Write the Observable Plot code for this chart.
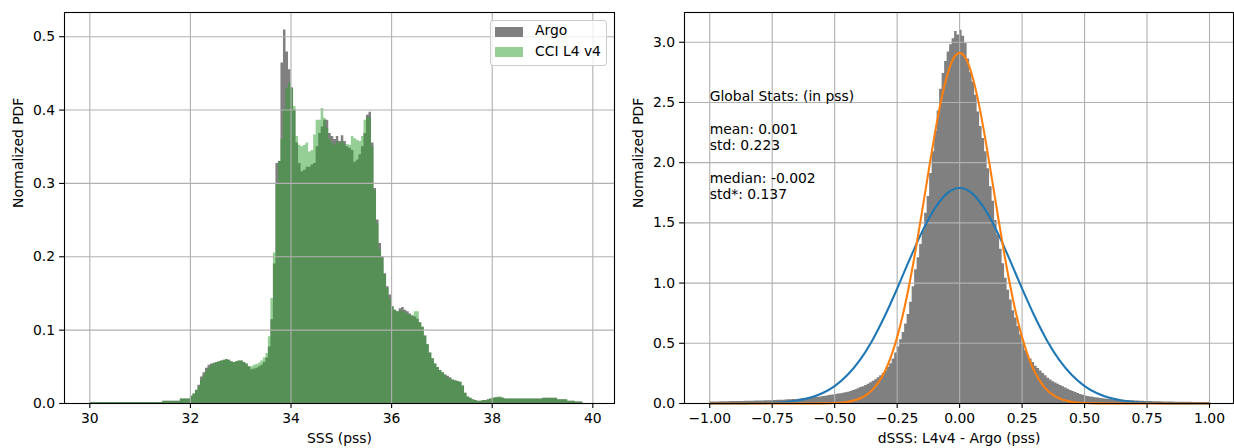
<!DOCTYPE html>
<html>
<head>
<meta charset="utf-8">
<script src="https://cdn.jsdelivr.net/npm/d3@7"></script>
<script src="https://cdn.jsdelivr.net/npm/@observablehq/plot@0.6"></script>
<style>
  html, body { margin: 0; padding: 0; background: #fff; }
  #wrap { position: relative; width: 1234px; height: 448px; overflow: hidden; font-family: "DejaVu Sans", sans-serif; }
  #left, #right { position: absolute; top: 0; }
  #left { left: 0; }
  #right { left: 617px; }
  .legend { position: absolute; left: 490px; top: 20px; width: 115px; height: 44px; border: 1px solid #cccccc; border-radius: 3px; background: rgba(255,255,255,0.8); font-size: 13.9px; line-height: 16px; color: #000; }
  .legend .sw { position: absolute; left: 4px; width: 28px; height: 9.7px; }
  .legend .lb { position: absolute; left: 44px; white-space: nowrap; }
</style>
</head>
<body>
<div id="wrap">
  <div id="left"></div>
  <div id="right"></div>
</div>
<script>
// ---------------- Data ----------------
// Left panel: SSS histograms, bins of 0.05 pss starting at 30.00
const sssBinStart = 30.0;
const sssBinWidth = 0.05;
const argoPdf = [
  0.0015,0.0015,0.0015,0.0015,0.0015,0.0015,0.0015,0.0015,0.0015,0.0015,
  0.0015,0.0015,0.0015,0.0015,0.0015,0.0015,0.0015,0.0015,0.0015,0.0015,
  0.0015,0.0015,0.0015,0.0015,0.0015,0.0015,0.0015,0.0015,0.0015,0.003,
  0.003,0.003,0.003,0.003,0.003,0.003,0.006,0.006,0.006,0.006,
  0.010,0.013,0.018,0.025,0.036,0.042,0.048,0.052,0.054,0.055,
  0.056,0.057,0.058,0.059,0.060,0.059,0.057,0.056,0.057,0.058,
  0.058,0.056,0.054,0.050,0.046,0.047,0.048,0.050,0.052,0.056,
  0.062,0.077,0.114,0.190,0.327,0.330,0.464,0.509,0.479,0.455,
  0.430,0.400,0.355,0.327,0.316,0.318,0.322,0.322,0.325,0.327,
  0.350,0.368,0.377,0.386,0.386,0.368,0.364,0.360,0.364,0.357,
  0.365,0.357,0.350,0.348,0.345,0.329,0.332,0.339,0.350,0.368,
  0.393,0.397,0.355,0.293,0.250,0.218,0.200,0.177,0.159,0.148,
  0.132,0.127,0.125,0.129,0.131,0.127,0.125,0.122,0.119,0.118,
  0.115,0.110,0.104,0.092,0.080,0.069,0.061,0.054,0.049,0.045,
  0.042,0.039,0.037,0.035,0.032,0.031,0.030,0.029,0.024,0.014,
  0.009,0.007,0.005,0.004,0.003,0.003,0.004,0.004,0.005,0.006,
  0.007,0.008,0.008,0.008,0.007,0.006,0.006,0.006,0.006,0.006,
  0.006,0.006,0.006,0.006,0.006,0.006,0.006,0.006,0.006,0.006,
  0.007,0.007,0.007,0.007,0.007,0.007,0.005,0.005,0.005,0.005,
  0.003,0.003,0.003,0.002,0.002,0.002,0,0,0,0
];
const cciPdf = [
  0.0015,0.0015,0.0015,0.0015,0.0015,0.0015,0.0015,0.0015,0.0015,0.0015,
  0.0015,0.0015,0.0015,0.0015,0.0015,0.0015,0.0015,0.0015,0.0015,0.0015,
  0.0015,0.0015,0.0015,0.0015,0.0015,0.0015,0.0015,0.0015,0.0015,0.003,
  0.003,0.003,0.003,0.003,0.003,0.003,0.006,0.006,0.006,0.006,
  0.010,0.013,0.017,0.023,0.032,0.038,0.044,0.048,0.052,0.054,
  0.056,0.057,0.058,0.059,0.060,0.059,0.057,0.056,0.057,0.058,
  0.058,0.056,0.054,0.050,0.050,0.052,0.053,0.055,0.058,0.062,
  0.068,0.091,0.143,0.205,0.300,0.330,0.360,0.400,0.430,0.437,
  0.430,0.405,0.364,0.352,0.350,0.352,0.355,0.343,0.345,0.366,
  0.386,0.386,0.402,0.389,0.375,0.360,0.355,0.352,0.357,0.354,
  0.357,0.352,0.353,0.352,0.364,0.361,0.359,0.357,0.364,0.386,
  0.390,0.390,0.350,0.290,0.245,0.210,0.198,0.175,0.157,0.142,
  0.132,0.127,0.125,0.125,0.126,0.124,0.122,0.120,0.120,0.125,
  0.125,0.110,0.104,0.092,0.080,0.069,0.061,0.054,0.049,0.045,
  0.042,0.039,0.035,0.033,0.032,0.031,0.030,0.029,0.024,0.014,
  0.009,0.007,0.005,0.004,0.003,0.003,0.004,0.004,0.005,0.006,
  0.007,0.008,0.009,0.009,0.007,0.006,0.006,0.006,0.006,0.006,
  0.006,0.006,0.006,0.006,0.006,0.006,0.006,0.006,0.006,0.006,
  0.007,0.007,0.007,0.007,0.007,0.007,0.005,0.005,0.005,0.005,
  0.003,0.003,0.003,0.002,0.002,0.002,0,0,0,0
];
const sssTicks = [30, 32, 34, 36, 38, 40];
const pdfTicksLeft = [0, 0.1, 0.2, 0.3, 0.4, 0.5];

// Right panel: dSSS histogram, bins of 0.01 pss starting at -1.00
const dBinStart = -1.0;
const dBinWidth = 0.01;
const dSssPdf = [
  0.012,0.012,0.013,0.013,0.014,0.015,0.015,0.015,0.016,0.016,
  0.016,0.016,0.017,0.017,0.018,0.018,0.019,0.019,0.020,0.020,
  0.021,0.021,0.022,0.023,0.023,0.024,0.025,0.026,0.027,0.028,
  0.030,0.031,0.032,0.033,0.034,0.036,0.038,0.040,0.041,0.043,
  0.045,0.047,0.049,0.051,0.054,0.058,0.061,0.064,0.068,0.071,
  0.075,0.078,0.081,0.085,0.089,0.094,0.100,0.107,0.115,0.123,
  0.132,0.140,0.150,0.160,0.172,0.185,0.198,0.213,0.230,0.250,
  0.27,0.30,0.33,0.37,0.42,0.47,0.53,0.59,0.66,0.74,
  0.84,0.97,1.11,1.21,1.32,1.43,1.58,1.72,1.91,2.09,
  2.26,2.43,2.61,2.74,2.84,2.92,2.98,3.03,3.09,3.06,
  3.10,3.05,2.99,2.86,2.75,2.67,2.56,2.42,2.30,2.20,
  2.09,1.95,1.80,1.68,1.52,1.40,1.28,1.16,1.04,0.94,
  0.86,0.77,0.71,0.64,0.57,0.50,0.44,0.40,0.37,0.34,
  0.31,0.29,0.27,0.25,0.23,0.21,0.195,0.18,0.17,0.16,
  0.150,0.140,0.128,0.118,0.108,0.099,0.091,0.083,0.075,0.068,
  0.062,0.058,0.054,0.051,0.048,0.045,0.042,0.040,0.037,0.035,
  0.033,0.031,0.030,0.028,0.027,0.026,0.025,0.024,0.023,0.022,
  0.021,0.020,0.019,0.018,0.017,0.016,0.016,0.015,0.015,0.014,
  0.014,0.013,0.013,0.012,0.012,0.012,0.011,0.011,0.011,0.010,
  0.010,0.010,0.010,0.009,0.009,0.009,0.009,0.008,0.008,0.008
];
// Gaussian fit curves
const meanFitX = [-1.00,-0.95,-0.90,-0.85,-0.80,-0.75,-0.70,-0.65,-0.60,-0.55,-0.50,-0.45,-0.40,-0.35,-0.30,-0.25,-0.20,-0.15,-0.10,-0.05,
  0.00,0.05,0.10,0.15,0.20,0.25,0.30,0.35,0.40,0.45,0.50,0.55,0.60,0.65,0.70,0.75,0.80,0.85,0.90,0.95,1.00];
const meanFitY = [0.0001,0.0002,0.0005,0.0013,0.0029,0.0063,0.013,0.0256,0.048,0.0855,0.145,0.234,0.358,0.522,0.724,0.954,1.197,1.427,1.618,1.745,
  1.789,1.745,1.618,1.427,1.197,0.954,0.724,0.522,0.358,0.234,0.145,0.0855,0.048,0.0256,0.013,0.0063,0.0029,0.0013,0.0005,0.0002,0.0001];
const medianFitX = [-1.00,-0.90,-0.80,-0.70,-0.60,-0.55,-0.50,-0.45,-0.400,-0.375,-0.350,-0.325,-0.300,-0.275,-0.250,-0.225,-0.200,-0.175,-0.150,-0.125,-0.100,-0.075,-0.050,-0.025,
  0.000,0.025,0.050,0.075,0.100,0.125,0.150,0.175,0.200,0.225,0.250,0.275,0.300,0.325,0.350,0.375,0.400,0.45,0.50,0.55,0.60,0.70,0.80,0.90,1.00];
const medianFitY = [0,0,0,0,0.0002,0.0009,0.0037,0.013,0.041,0.069,0.111,0.175,0.265,0.388,0.551,0.756,1.003,1.288,1.599,1.920,2.231,2.507,2.724,2.864,
  2.912,2.864,2.724,2.507,2.231,1.920,1.599,1.288,1.003,0.756,0.551,0.388,0.265,0.175,0.111,0.069,0.041,0.013,0.0037,0.0009,0.0002,0,0,0,0];
const dTicks = [-1, -0.75, -0.5, -0.25, 0, 0.25, 0.5, 0.75, 1];
const pdfTicksRight = [0, 0.5, 1.0, 1.5, 2.0, 2.5, 3.0];
const statsLines = ["Global Stats: (in pss)", "", "mean: 0.001", "std: 0.223", "", "median: -0.002", "std*: 0.137"];

// ---------------- Helpers ----------------
function steps(start, width, vals) {
  const pts = vals.map((v, i) => ({x: start + i * width, v}));
  pts.push({x: start + vals.length * width, v: vals[vals.length - 1]});
  return pts;
}
const argoSteps = steps(sssBinStart, sssBinWidth, argoPdf);
const cciSteps = steps(sssBinStart, sssBinWidth, cciPdf);
const dSteps = steps(dBinStart, dBinWidth, dSssPdf);
const meanFit = meanFitX.map((x, i) => ({x, y: meanFitY[i]}));
const medianFit = medianFitX.map((x, i) => ({x, y: medianFitY[i]}));

const style = {fontFamily: "'DejaVu Sans', sans-serif", fontSize: "13.9px", color: "black", background: "transparent", overflow: "visible"};
const gridStyle = {stroke: "#b0b0b0", strokeOpacity: 1, strokeWidth: 1.1};
const fmt1 = d3.format(".1f");
const fmt2 = d3.format(".2f");

// ---------------- Left panel ----------------
const left = Plot.plot({
  width: 617, height: 448,
  marginLeft: 64, marginRight: 3, marginTop: 12, marginBottom: 45,
  style,
  x: {domain: [29.497, 40.431]},
  y: {domain: [0, 0.533]},
  marks: [
    Plot.areaY(argoSteps, {x: "x", y: "v", curve: "step-after", fill: "#808080"}),
    Plot.areaY(cciSteps, {x: "x", y: "v", curve: "step-after", fill: "#2ca02c", fillOpacity: 0.5}),
    Plot.gridX({ticks: sssTicks, ...gridStyle}),
    Plot.gridY({ticks: pdfTicksLeft, ...gridStyle}),
    Plot.frame({stroke: "black", strokeWidth: 1.1}),
    Plot.axisX({ticks: sssTicks, tickSize: 4.9, tickPadding: 4.5, tickFormat: d => String(d), label: null, strokeWidth: 1.1}),
    Plot.axisY({ticks: pdfTicksLeft, tickSize: 4.9, tickPadding: 4.5, tickFormat: fmt1, label: null, strokeWidth: 1.1}),
    Plot.text(["SSS (pss)"], {text: d => d, frameAnchor: "bottom", lineAnchor: "top", dy: 30}),
    Plot.text(["Normalized PDF"], {text: d => d, frameAnchor: "left", rotate: -90, dx: -46})
  ]
});
document.getElementById("left").appendChild(left);

// Legend (left panel)
const legend = document.createElement("div");
legend.className = "legend";
legend.innerHTML =
  '<div class="sw" style="top:6px;background:#808080"></div><div class="lb" style="top:1px">Argo</div>' +
  '<div class="sw" style="top:26px;background:rgba(44,160,44,0.5)"></div><div class="lb" style="top:22px">CCI L4 v4</div>';
document.getElementById("wrap").appendChild(legend);

// ---------------- Right panel ----------------
const statMarks = statsLines.map((t, i) => t ? Plot.text([{x: -1, y: 2.596, t}], {x: "x", y: "y", text: "t", textAnchor: "start", lineAnchor: "top", dy: i * 16.4}) : null).filter(Boolean);

const right = Plot.plot({
  width: 617, height: 448,
  marginLeft: 67, marginRight: 1, marginTop: 12, marginBottom: 45,
  style,
  x: {domain: [-1.101, 1.096]},
  y: {domain: [0, 3.247]},
  marks: [
    Plot.areaY(dSteps, {x: "x", y: "v", curve: "step-after", fill: "#808080"}),
    Plot.gridX({ticks: dTicks, ...gridStyle}),
    Plot.gridY({ticks: pdfTicksRight, ...gridStyle}),
    Plot.line(meanFit, {x: "x", y: "y", stroke: "#1f77b4", strokeWidth: 2.08, curve: "monotone-x"}),
    Plot.line(medianFit, {x: "x", y: "y", stroke: "#ff7f0e", strokeWidth: 2.08, curve: "monotone-x"}),
    ...statMarks,
    Plot.frame({stroke: "black", strokeWidth: 1.1}),
    Plot.axisX({ticks: dTicks, tickSize: 4.9, tickPadding: 4.5, tickFormat: fmt2, label: null, strokeWidth: 1.1}),
    Plot.axisY({ticks: pdfTicksRight, tickSize: 4.9, tickPadding: 4.5, tickFormat: fmt1, label: null, strokeWidth: 1.1}),
    Plot.text(["dSSS: L4v4 - Argo (pss)"], {text: d => d, frameAnchor: "bottom", lineAnchor: "top", dy: 30}),
    Plot.text(["Normalized PDF"], {text: d => d, frameAnchor: "left", rotate: -90, dx: -46})
  ]
});
document.getElementById("right").appendChild(right);
</script>
</body>
</html>
